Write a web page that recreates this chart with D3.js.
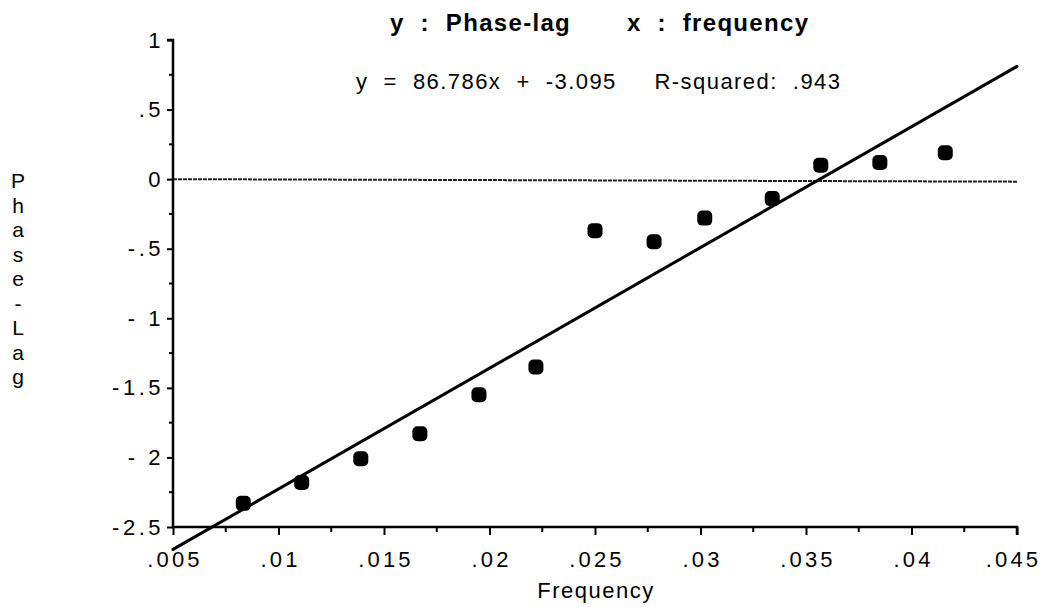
<!DOCTYPE html>
<html>
<head>
<meta charset="utf-8">
<script src="https://cdn.jsdelivr.net/npm/d3@7"></script>
<style>
  html, body { margin: 0; padding: 0; background: #fff; }
  svg { display: block; font-family: "Liberation Sans", Arial, Helvetica, sans-serif; }
  text { white-space: pre; }
</style>
</head>
<body>
<svg id="chart" width="1042" height="607"></svg>
<script>
// ---- data ----
const frequency = [0.00833, 0.0111, 0.0139, 0.0167, 0.0195, 0.0222, 0.0250, 0.0278, 0.0302, 0.0334, 0.0357, 0.0385, 0.0416];
const phaseLag  = [-2.33, -2.18, -2.01, -1.83, -1.55, -1.35, -0.37, -0.45, -0.28, -0.14, 0.10, 0.12, 0.19];
const fitSlope = 86.786;
const fitIntercept = -3.095;
const yTickValues = [1, 0.5, 0, -0.5, -1, -1.5, -2, -2.5];
const yTickLabels = ["1", ".5", "0", "-.5", "- 1", "-1.5", "- 2", "-2.5"];
const yMinorTicks = [0.75, 0.25, -0.25, -0.75, -1.25, -1.75, -2.25];
const xTickValues = [0.005, 0.01, 0.015, 0.02, 0.025, 0.03, 0.035, 0.04, 0.045];
const xTickLabels = [".005", ".01", ".015", ".02", ".025", ".03", ".035", ".04", ".045"];
const xMinorTicks = [0.0075, 0.0125, 0.0175, 0.0225, 0.0275, 0.0325, 0.0375, 0.0425];
const titleText = "y  :  Phase-lag       x  :  frequency";
const equationText = "y  =  86.786x  +  -3.095     R-squared:  .943";
const xLabel = "Frequency";
const yLabel = "Phase-Lag";

// ---- layout ----
const svg = d3.select("#chart");
const pLeft = 173, pRight = 1017, pTop = 40, pBottom = 527;
const FONT = "'Liberation Sans', Arial, Helvetica, sans-serif";

const x = d3.scaleLinear().domain([0.005, 0.045]).range([pLeft, pRight]);
const y = d3.scaleLinear().domain([-2.5, 1]).range([pBottom, pTop]);

// zero reference line (thin, textured)
svg.append("line")
  .attr("x1", x(0.005)).attr("x2", x(0.045))
  .attr("y1", y(0)).attr("y2", y(0) + 2.5)
  .attr("stroke", "#222").attr("stroke-width", 2)
  .attr("stroke-dasharray", "4,1");

// y axis
const yAxis = d3.axisLeft(y)
  .tickValues(yTickValues)
  .tickSize(6)
  .tickPadding(3)
  .tickFormat((d, i) => yTickLabels[i]);
const gy = svg.append("g").attr("transform", `translate(${pLeft},0)`).call(yAxis);
gy.attr("font-family", FONT).attr("font-size", 22);
gy.select(".domain").attr("stroke-width", 2.5).attr("d", `M-6,${pTop}H0V${pBottom}`);
gy.selectAll(".tick line").attr("stroke-width", 2);
gy.selectAll(".tick text")
  .attr("letter-spacing", 3.5).attr("fill", "#000");
gy.selectAll(".minor").data(yMinorTicks).enter().append("line")
  .attr("x1", -4).attr("x2", 0)
  .attr("y1", d => y(d)).attr("y2", d => y(d))
  .attr("stroke", "#000").attr("stroke-width", 2);

// x axis
const xAxis = d3.axisBottom(x)
  .tickValues(xTickValues)
  .tickSize(8)
  .tickPadding(16)
  .tickFormat((d, i) => xTickLabels[i]);
const gx = svg.append("g").attr("transform", `translate(0,${pBottom})`).call(xAxis);
gx.attr("font-family", FONT).attr("font-size", 22);
gx.select(".domain").attr("stroke-width", 2.5).attr("d", `M${pLeft},0H${pRight}V8`);
gx.selectAll(".tick line").attr("stroke-width", 2);
gx.selectAll(".tick text")
  .attr("letter-spacing", 3.2)
  .attr("dx", (d, i) => i === xTickValues.length - 1 ? -4 : 1.5)
  .attr("fill", "#000");
gx.selectAll(".minor").data(xMinorTicks).enter().append("line")
  .attr("x1", d => x(d)).attr("x2", d => x(d))
  .attr("y1", 0).attr("y2", 5)
  .attr("stroke", "#000").attr("stroke-width", 2);

// regression line
svg.append("line")
  .attr("x1", x(0.005)).attr("y1", y(fitSlope * 0.005 + fitIntercept))
  .attr("x2", x(0.045)).attr("y2", y(fitSlope * 0.045 + fitIntercept))
  .attr("stroke", "#000").attr("stroke-width", 3).attr("stroke-linecap", "round");

// points
const pts = frequency.map((f, i) => ({ f, p: phaseLag[i] }));
svg.selectAll(".pt").data(pts).enter().append("rect")
  .attr("class", "pt")
  .attr("x", d => x(d.f) - 7.5).attr("y", d => y(d.p) - 7.5)
  .attr("width", 15).attr("height", 15)
  .attr("rx", 5).attr("ry", 5)
  .attr("fill", "#000");

// title & equation
svg.append("text")
  .attr("x", 390).attr("y", 31)
  .attr("font-family", FONT)
  .attr("font-size", 24).attr("font-weight", "bold")
  .attr("textLength", 418).attr("lengthAdjust", "spacing")
  .text(titleText);
svg.append("text")
  .attr("x", 356).attr("y", 89)
  .attr("font-family", FONT)
  .attr("font-size", 22)
  .attr("textLength", 484).attr("lengthAdjust", "spacing")
  .text(equationText);

// x label
svg.append("text")
  .attr("x", 596).attr("y", 598)
  .attr("text-anchor", "middle")
  .attr("font-family", FONT)
  .attr("font-size", 22).attr("letter-spacing", 1.5)
  .text(xLabel);

// y label (stacked letters)
svg.append("g").selectAll("text").data(yLabel.split("")).enter().append("text")
  .attr("x", 18).attr("y", (d, i) => 188 + i * 24.5)
  .attr("text-anchor", "middle")
  .attr("font-family", FONT)
  .attr("font-size", 21)
  .text(d => d);
</script>
</body>
</html>
